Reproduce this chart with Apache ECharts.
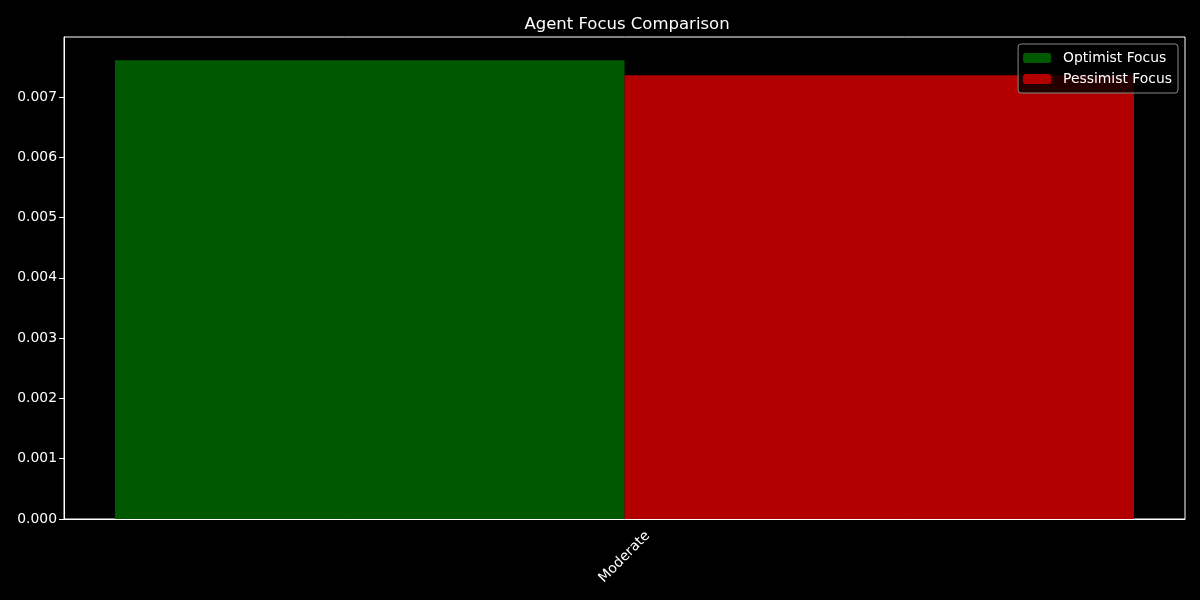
<!DOCTYPE html>
<html><head><meta charset="utf-8">
<script src="https://cdn.jsdelivr.net/npm/echarts@6/dist/echarts.min.js"></script>
<style>html,body{margin:0;padding:0;background:#000;}#c{width:1200px;height:600px;}</style>
</head><body><div id="c"></div>
<script>
const categories = ['Moderate'];
const optimistFocus = [0.00761];
const pessimistFocus = [0.00736];
const yTicks = [0, 0.001, 0.002, 0.003, 0.004, 0.005, 0.006, 0.007];

const chart = echarts.init(document.getElementById('c'), null, {renderer: 'canvas'});
const font = 'DejaVu Sans';
chart.setOption({
  backgroundColor: '#000',
  animation: false,
  title: {
    text: 'Agent Focus Comparison', left: 622, textAlign: 'center', top: 11,
    textStyle: {color: '#fff', fontSize: 16.5, fontWeight: 'normal', fontFamily: font}
  },
  legend: {
    orient: 'vertical', right: 22, top: 44,
    itemWidth: 28, itemHeight: 10, itemGap: 5,
    padding: [6, 6, 6, 5],
    backgroundColor: 'rgba(0,0,0,0.8)', borderColor: '#888', borderWidth: 1, borderRadius: 3,
    textStyle: {color: '#fff', fontSize: 13.9, fontFamily: font, padding: [0, 0, 0, 7], lineHeight: 16},
    data: ['Optimist Focus', 'Pessimist Focus']
  },
  grid: {left: 64, right: 15, top: 37, bottom: 81, show: true, borderColor: '#fff', borderWidth: 1, backgroundColor: '#000'},
  xAxis: {
    type: 'category', data: categories,
    axisLine: {lineStyle: {color: '#fff'}},
    axisTick: {alignWithLabel: true, length: 5, lineStyle: {color: '#fff'}},
    axisLabel: {rotate: 45, color: '#fff', fontSize: 13.9, fontFamily: font, margin: 38,
      align: 'center', verticalAlign: 'middle'}
  },
  yAxis: {
    type: 'value', min: 0, max: 0.007995, interval: 0.001,
    splitLine: {show: false},
    axisLine: {show: true, lineStyle: {color: '#fff'}},
    axisTick: {show: true, length: 5, lineStyle: {color: '#fff'}},
    axisLabel: {color: '#fff', fontSize: 13.9, fontFamily: font, margin: 7, showMaxLabel: false,
      formatter: v => yTicks.some(t => Math.abs(t - v) < 1e-9) ? v.toFixed(3) : ''}
  },
  series: [
    {name: 'Optimist Focus', type: 'bar', data: optimistFocus, itemStyle: {color: '#005900'},
     barGap: '0%', barCategoryGap: '9.1%'},
    {name: 'Pessimist Focus', type: 'bar', data: pessimistFocus, itemStyle: {color: '#b20000'},
     barGap: '0%', barCategoryGap: '9.1%'}
  ]
});
</script></body></html>
